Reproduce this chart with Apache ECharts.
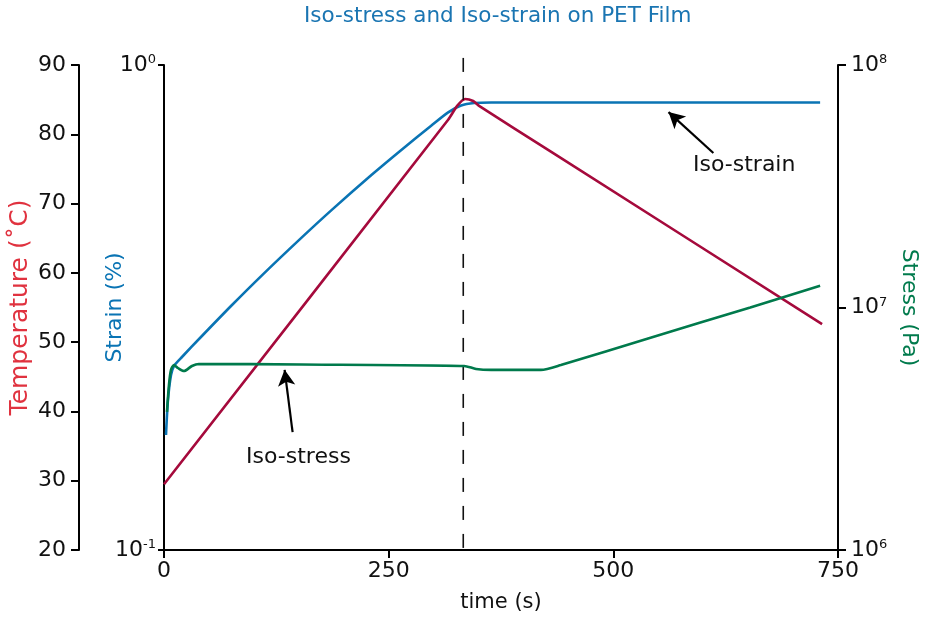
<!DOCTYPE html>
<html>
<head>
<meta charset="utf-8">
<script src="https://cdn.jsdelivr.net/npm/echarts@6/dist/echarts.min.js"></script>
<style>
  html, body { margin: 0; padding: 0; background: #fff; }
  #chart { width: 930px; height: 622px; }
</style>
</head>
<body>
<div id="chart"></div>
<script>
// time (s) / value pairs
const tempTime = [0, 316.2, 326.2, 335.1, 344.0, 350.6, 430.5, 732.3]
const tempValue = [29.5, 82.1, 84.1, 85.1, 84.8, 84.1, 77.5, 52.6]

const strainTime = [2.2, 4.4, 7.8, 11.1, 20.0, 42.2, 75.4, 108.7, 153.1, 186.4, 230.8, 264.1, 297.3, 316.2, 330.6, 345.1, 363.9, 730.1]
const strainValue = [0.1726, 0.2038, 0.2296, 0.2396, 0.25, 0.2762, 0.3196, 0.368, 0.4406, 0.5021, 0.5932, 0.6682, 0.7495, 0.7987, 0.825, 0.8348, 0.8369, 0.8369]

const stressTime = [3.3, 5.5, 7.8, 11.1, 15.5, 22.2, 31.1, 38.8, 153.1, 334.0, 347.3, 363.9, 419.4, 441.6, 541.4, 652.4, 730.1]
const stressValue = [3.71e6, 4.79e6, 5.53e6, 5.79e6, 5.63e6, 5.47e6, 5.74e6, 5.85e6, 5.82e6, 5.74e6, 5.58e6, 5.53e6, 5.53e6, 5.79e6, 7.51e6, 1.0e7, 1.23e7]

// dashed marker at the end of the ramp
const markerTime = 333
const markerRange = [20.3, 92.4]

// annotation arrows: [tailTime, tailTemp, headTime, headTemp]
const isoStrainArrow = [611.3, 77.3, 561.4, 83.2]
const isoStressArrow = [143.1, 37.0, 134.2, 46.0]

const xTicks = [0, 250, 500, 750]
const tempTicks = [20, 30, 40, 50, 60, 70, 80, 90]

const font = 'DejaVu Sans'
const red = '#a50a3c'
const redLabel = '#e0323f'
const blue = '#0a74b4'
const green = '#007a4c'

const zip = (a, b) => a.map((v, i) => [v, b[i]])

const supLabel = (v) => '{b|10}{s|' + Math.round(Math.log10(v)) + '}'
const supRich = {
  b: { fontSize: 22, fontFamily: font, color: '#111' },
  s: { fontSize: 13, fontFamily: font, color: '#111', verticalAlign: 'top', padding: [0, 0, 10, 0] },
}

const axisLine = { show: true, onZero: false, lineStyle: { color: '#000', width: 2 } }
const axisTick = { show: true, length: 8, lineStyle: { color: '#000', width: 2 } }

const chart = echarts.init(document.getElementById('chart'))

chart.setOption({
  animation: false,
  backgroundColor: '#fff',
  title: {
    text: 'Iso-stress and Iso-strain on PET Film',
    left: 299,
    top: 0,
    textStyle: { fontFamily: font, fontSize: 21.5, fontWeight: 'normal', color: '#1a75b2' },
  },
  grid: { left: 162, right: 92, top: 65, bottom: 72 },
  xAxis: {
    type: 'value',
    min: xTicks[0],
    max: xTicks[xTicks.length - 1],
    interval: 250,
    name: 'time (s)',
    nameLocation: 'middle',
    nameGap: 42,
    nameMoveOverlap: false,
    nameTextStyle: { fontFamily: font, fontSize: 21, color: '#111' },
    axisLine,
    axisTick,
    splitLine: { show: false },
    axisLabel: { fontFamily: font, fontSize: 22, color: '#111', margin: 10 },
  },
  yAxis: [
    {
      type: 'value',
      position: 'left',
      offset: 85,
      min: tempTicks[0],
      max: tempTicks[tempTicks.length - 1],
      interval: 10,
      name: 'Temperature (˚C)',
      nameLocation: 'middle',
      nameGap: 46,
      nameMoveOverlap: false,
      nameTextStyle: { fontFamily: font, fontSize: 25, color: redLabel },
      axisLine,
      axisTick,
      splitLine: { show: false },
      axisLabel: { fontFamily: font, fontSize: 22, color: '#111', margin: 13 },
    },
    {
      type: 'log',
      logBase: 10,
      position: 'left',
      offset: 0,
      min: 0.1,
      max: 1,
      name: 'Strain (%)',
      nameLocation: 'middle',
      nameGap: 38,
      nameMoveOverlap: false,
      nameTextStyle: { fontFamily: font, fontSize: 22, color: blue },
      axisLine,
      axisTick: { show: true, length: 6, lineStyle: { color: '#000', width: 2 } },
      splitLine: { show: false },
      axisLabel: { formatter: supLabel, rich: supRich, margin: 8 },
    },
    {
      type: 'log',
      logBase: 10,
      position: 'right',
      offset: 0,
      min: 1e6,
      max: 1e8,
      name: 'Stress (Pa)',
      nameLocation: 'middle',
      nameRotate: -90,
      nameGap: 60,
      nameMoveOverlap: false,
      nameTextStyle: { fontFamily: font, fontSize: 22, color: green },
      axisLine,
      axisTick,
      splitLine: { show: false },
      axisLabel: { formatter: supLabel, rich: supRich, margin: 13 },
    },
  ],
  series: [
    {
      name: 'Temperature',
      type: 'line',
      yAxisIndex: 0,
      data: zip(tempTime, tempValue),
      smooth: 0.2,
      showSymbol: false,
      lineStyle: { color: red, width: 2.6 },
      z: 3,
    },
    {
      name: 'Strain',
      type: 'line',
      yAxisIndex: 1,
      data: zip(strainTime, strainValue),
      smooth: 0.25,
      showSymbol: false,
      lineStyle: { color: blue, width: 2.6 },
      z: 2,
    },
    {
      name: 'Stress',
      type: 'line',
      yAxisIndex: 2,
      data: zip(stressTime, stressValue),
      smooth: 0.25,
      showSymbol: false,
      lineStyle: { color: green, width: 2.6 },
      z: 4,
    },
    {
      name: 'marker',
      type: 'line',
      yAxisIndex: 0,
      clip: false,
      data: markerRange.map((v) => [markerTime, v]),
      showSymbol: false,
      silent: true,
      lineStyle: { color: '#111', width: 1.6, type: [14, 14] },
      markLine: {
        silent: true,
        symbol: ['none', 'arrow'],
        symbolSize: [13, 16],
        label: { show: false },
        lineStyle: { color: '#000', width: 2.2, type: 'solid' },
        data: [isoStrainArrow, isoStressArrow].map((a) => [
          { coord: [a[0], a[1]] },
          { coord: [a[2], a[3]] },
        ]),
      },
    },
  ],
  graphic: [
    {
      type: 'text',
      left: 693,
      top: 154,
      style: { text: 'Iso-strain', fontFamily: font, fontSize: 22, fill: '#111' },
    },
    {
      type: 'text',
      left: 246,
      top: 446,
      style: { text: 'Iso-stress', fontFamily: font, fontSize: 22, fill: '#111' },
    },
  ],
})
</script>
</body>
</html>
